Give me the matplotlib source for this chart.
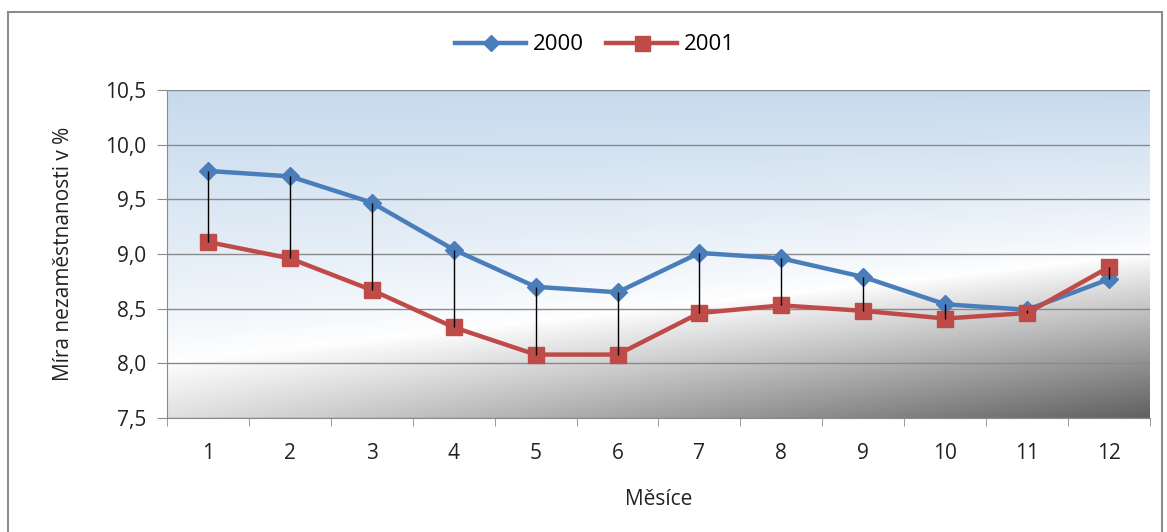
import numpy as np
import matplotlib
matplotlib.use("Agg")
import matplotlib.pyplot as plt
from matplotlib.patches import Rectangle

months = ["1", "2", "3", "4", "5", "6", "7", "8", "9", "10", "11", "12"]
y2000 = [9.76, 9.71, 9.47, 9.04, 8.70, 8.65, 9.01, 8.96, 8.79, 8.54, 8.49, 8.77]
y2001 = [9.11, 8.96, 8.67, 8.33, 8.08, 8.08, 8.46, 8.53, 8.48, 8.41, 8.46, 8.88]
yticks = [7.5, 8.0, 8.5, 9.0, 9.5, 10.0, 10.5]

plt.rcParams['font.family'] = ['Open Sans', 'DejaVu Sans']

fig = plt.figure(figsize=(11.67, 5.32), dpi=100)
# outer frame
fig.patches.append(Rectangle((8/1167, -0.01), (1162-8)/1167, 1 - 12/532 + 0.01,
                             transform=fig.transFigure, fill=False,
                             edgecolor='#8c8c8c', linewidth=1.5))

ax = fig.add_axes([167/1167, 1 - 418/532, (1150-167)/1167, (418-90)/532])

# background gradient: blue top, white middle, gray bottom (darker to the right)
H, W = 200, 400
yy = np.linspace(1, 0, H)[:, None]
xx = np.linspace(0, 1, W)[None, :]
blue = np.array([0.78, 0.855, 0.93])
img = np.zeros((H, W, 3))
b = 0.17 + 0.33 * xx
t_top = np.clip((yy - b) / (1 - b), 0, 1) ** 0.8
depth = np.clip((b - yy) / b, 0, 1)
dark = (0.12 + 0.5 * xx) * depth ** 0.9
for c in range(3):
    base = 1.0 * (1 - t_top) + blue[c] * t_top
    img[:, :, c] = base * (1 - dark)
img = np.clip(img, 0, 1)
ax.imshow(img, extent=[0, 1, 0, 1], transform=ax.transAxes, aspect='auto', zorder=0)

x = np.arange(1, len(months) + 1)
ax.set_xlim(0.5, len(months) + 0.5)
ax.set_ylim(7.5, 10.5)

for yv in yticks:
    ax.axhline(yv, color='#8a8a8a', linewidth=1.0, zorder=1)

# high-low lines
ax.vlines(x, np.minimum(y2000, y2001), np.maximum(y2000, y2001), color='black', linewidth=1.0, zorder=4)

ax.plot(x, y2000, color='#4A7EBB', linewidth=3.2, marker='D', markersize=9,
        markerfacecolor='#4A7EBB', markeredgecolor='#4A7EBB', label='2000', zorder=3)
ax.plot(x, y2001, color='#BE4B48', linewidth=3.2, marker='s', markersize=12,
        markerfacecolor='#BE4B48', markeredgecolor='#BE4B48', label='2001', zorder=3)

ax.set_yticks(yticks)
ax.set_yticklabels([f"{v:.1f}".replace('.', ',') for v in yticks])
ax.set_xticks(x)
ax.set_xticklabels(months)
ax.set_xticks(np.arange(0.5, len(months) + 1.0, 1.0), minor=True)
ax.tick_params(axis='x', which='major', length=0, pad=18, labelsize=15, colors='#222222')
ax.tick_params(axis='x', which='minor', length=6, color='#8a8a8a', direction='out')
ax.tick_params(axis='y', length=7, color='#8a8a8a', labelsize=15, pad=8, labelcolor='#222222')

for s in ['top', 'right']:
    ax.spines[s].set_visible(False)
ax.spines['left'].set_color('#8a8a8a')
ax.spines['bottom'].set_color('#8a8a8a')

ax.set_xlabel('Měsíce', fontsize=15, color='#222222', labelpad=18)
ax.set_ylabel('Míra nezaměstnanosti v %', fontsize=15, color='#222222', labelpad=22)

fig.legend(loc='center', bbox_to_anchor=(0.51, 1 - 45/532), ncol=2, frameon=False,
           fontsize=16, handlelength=3.2, columnspacing=1.0, handletextpad=0.3,
           markerscale=0.9)

fig.savefig('out.png', dpi=100)
